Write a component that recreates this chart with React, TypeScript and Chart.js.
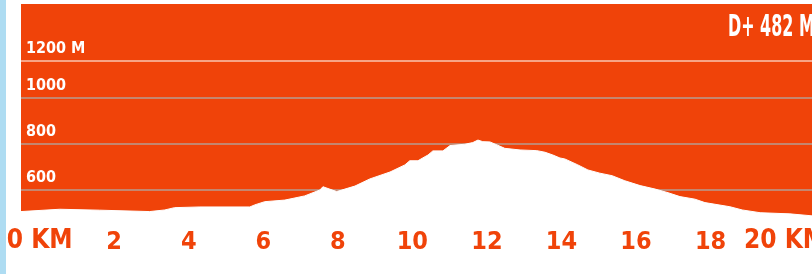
import React, { useEffect, useRef } from "react";
import { Chart, registerables } from "chart.js";

Chart.register(...registerables);

// Distance along the route (km) and elevation (m)
const DIST_KM = [
  -0.5, 0.54, 1.61, 2.95, 3.36, 3.62, 4.3, 5.64, 5.77, 6.04, 6.58, 7.11, 7.52, 7.6, 7.97,
  8.46, 8.86, 9.4, 9.8, 9.93, 10.15, 10.34, 10.42, 10.55, 10.82, 11.01, 11.41, 11.62, 11.76,
  11.89, 12.08, 12.27, 12.48, 12.89, 13.34, 13.56, 13.77, 13.96, 14.09, 14.44, 14.71, 15.03,
  15.36, 15.7, 16.11, 16.51, 16.86, 17.18, 17.58, 17.85, 18.52, 18.85, 19.33, 20.13, 20.75,
];
const ELEV_M = [
  506, 516, 512, 506, 513, 523, 526, 526, 535, 549, 556, 574, 600, 614, 593, 617, 648, 678,
  709, 727, 727, 745, 752, 770, 770, 793, 799, 806, 817, 810, 809, 796, 781, 774, 771, 764,
  752, 739, 735, 709, 687, 673, 662, 640, 619, 604, 588, 571, 560, 545, 527, 513, 501, 496,
  487,
];

const X_TICKS = [0, 2, 4, 6, 8, 10, 12, 14, 16, 18, 20];
const X_TICK_LABELS = ["0 KM", "2", "4", "6", "8", "10", "12", "14", "16", "18", "20 KM"];
const Y_TICKS = [600, 800, 1000, 1161];
const Y_TICK_LABELS = ["600", "800", "1000", "1200 M"];
const ELEVATION_GAIN = "D+ 482 M";

const ORANGE = "#f04309";
const FONT = "'Liberation Sans Narrow', 'DejaVu Sans Condensed', 'DejaVu Sans', sans-serif";

export default function App() {
  const ref = useRef<HTMLCanvasElement | null>(null);

  useEffect(() => {
    if (!ref.current) return;
    const bgPlugin = {
      id: "bgPlugin",
      beforeDraw(chart: any) {
        const { ctx, chartArea } = chart;
        ctx.save();
        ctx.fillStyle = ORANGE;
        ctx.fillRect(chartArea.left, 4, chartArea.right - chartArea.left, chartArea.bottom - 4);
        ctx.restore();
      },
      afterDraw(chart: any) {
        const { ctx } = chart;
        ctx.save();
        ctx.fillStyle = "#ffffff";
        ctx.font = `bold 30px ${FONT}`;
        ctx.textAlign = "left";
        ctx.textBaseline = "alphabetic";
        ctx.translate(722, 36);
        ctx.scale(0.59, 1);
        ctx.fillText(ELEVATION_GAIN, 0, 0);
        ctx.restore();
      },
    };

    const chart = new Chart(ref.current, {
      type: "line",
      data: {
        datasets: [
          {
            data: DIST_KM.map((x, i) => ({ x, y: ELEV_M[i] })),
            borderColor: "#ffffff",
            borderWidth: 1,
            backgroundColor: "#ffffff",
            fill: "start",
            pointRadius: 0,
            tension: 0,
          },
        ],
      },
      options: {
        animation: false,
        responsive: false,
        maintainAspectRatio: false,
        layout: { padding: { left: 15, top: 61, right: 0, bottom: 0 } },
        plugins: { legend: { display: false }, tooltip: { enabled: false }, title: { display: false } },
        scales: {
          x: {
            type: "linear",
            min: -0.5,
            max: 21.5,
            afterBuildTicks: (s: any) => {
              s.ticks = X_TICKS.map((v) => ({ value: v }));
            },
            afterFit: (s: any) => {
              s.height = 56;
              s.paddingLeft = 0;
              s.paddingRight = 0;
            },
            grid: { display: false },
            border: { display: false },
            ticks: {
              autoSkip: false,
              maxRotation: 0,
              padding: 15,
              crossAlign: "far",
              color: ORANGE,
              font: (ctx: any) => {
                const v = ctx.tick ? ctx.tick.value : 2;
                const big = v === 0 || v === 20;
                return { family: FONT, weight: "bold", size: big ? 26 : 25 };
              },
              callback: (v: any) => {
                const i = X_TICKS.indexOf(Number(v));
                return i >= 0 ? X_TICK_LABELS[i] : "";
              },
            },
          },
          y: {
            type: "linear",
            min: 478,
            max: 1161,
            afterBuildTicks: (s: any) => {
              s.ticks = Y_TICKS.map((v) => ({ value: v }));
            },
            afterFit: (s: any) => {
              s.width = 0;
            },
            border: { display: false },
            grid: {
              drawTicks: false,
              lineWidth: 2,
              color: (ctx: any) =>
                ctx.tick && ctx.tick.value === 1161 ? "#f7a486" : "#c4866f",
            },
            ticks: {
              mirror: true,
              padding: 5,
              labelOffset: -12,
              color: "#ffffff",
              font: { family: FONT, weight: "bold", size: 16 },
              callback: (v: any) => {
                const i = Y_TICKS.indexOf(Number(v));
                return i >= 0 ? Y_TICK_LABELS[i] : "";
              },
            },
          },
        },
      },
      plugins: [bgPlugin],
    });
    return () => chart.destroy();
  }, []);

  return (
    <div
      style={{
        position: "fixed",
        left: 0,
        top: 0,
        width: 812,
        height: 274,
        overflow: "hidden",
        background: "#ffffff",
      }}
    >
      <div style={{ position: "absolute", left: 0, top: 0, width: 6, height: 274, background: "#aedcf2" }} />
      <canvas
        ref={ref}
        width={835}
        height={274}
        style={{ position: "absolute", left: 6, top: 0, width: 835, height: 274 }}
      />
    </div>
  );
}
